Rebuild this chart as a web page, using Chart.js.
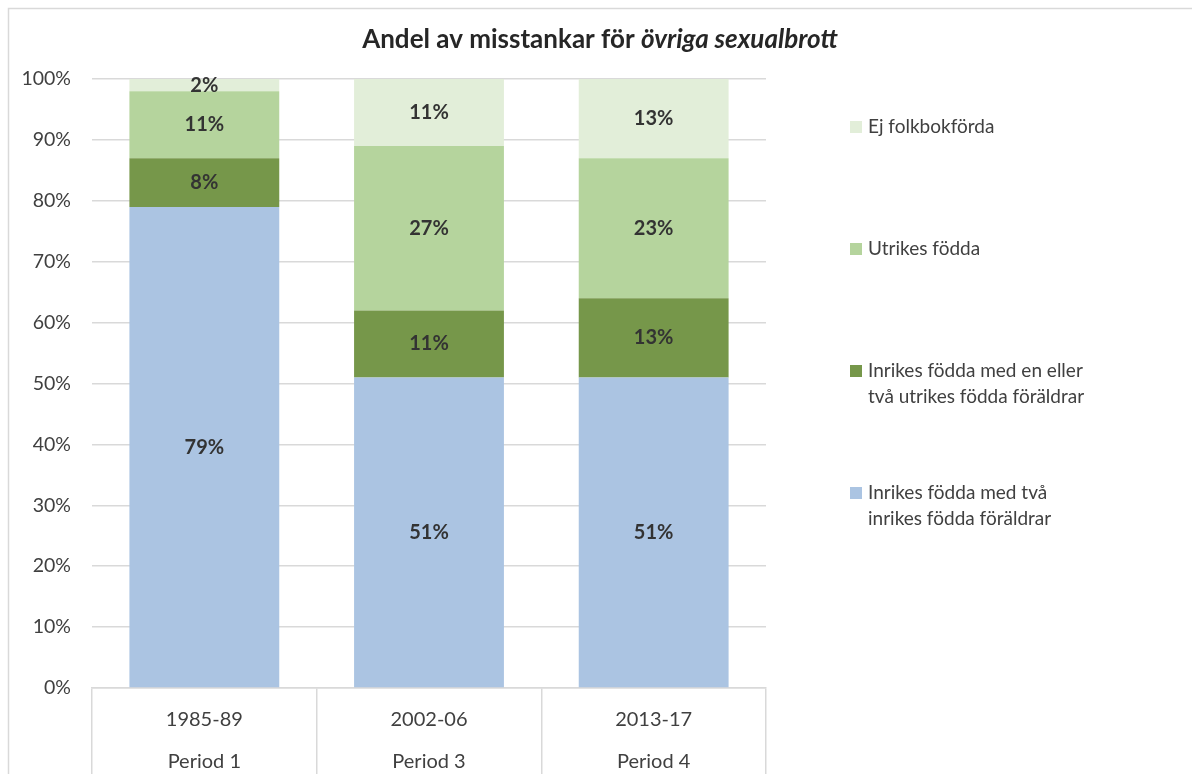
<!DOCTYPE html>
<html lang="sv">
<head>
<meta charset="utf-8">
<title>Andel av misstankar för övriga sexualbrott</title>
<script src="https://cdn.jsdelivr.net/npm/chart.js@4/dist/chart.umd.min.js"></script>
<style>
  html, body { margin: 0; padding: 0; background: #fff; }
  #wrap { position: relative; width: 1192px; height: 774px; }
</style>
</head>
<body>
<div id="wrap"><canvas id="grafico" width="1192" height="774"></canvas></div>
<script>
const perioder = ['1985-89', '2002-06', '2013-17'];
const periodNamn = ['Period 1', 'Period 3', 'Period 4'];

const serieNamn = [
  'Inrikes födda med två inrikes födda föräldrar',
  'Inrikes födda med en eller två utrikes födda föräldrar',
  'Utrikes födda',
  'Ej folkbokförda'
];
const inrikesTvaInrikes = [79, 51, 51];
const inrikesUtrikesForaldrar = [8, 11, 13];
const utrikesFodda = [11, 27, 23];
const ejFolkbokforda = [2, 11, 13];

const yTicks = [0, 10, 20, 30, 40, 50, 60, 70, 80, 90, 100];

const farger = ['#abc4e2', '#76974a', '#b5d49d', '#e2eed9'];
const typsnitt = 'Lato, "Open Sans", sans-serif';
const textFarg = '#404040';
const linjeFarg = '#d9d9d9';

// Ramen runt diagrammet (bara vänster och övre kant syns)
const ramPlugin = {
  id: 'ram',
  beforeDraw: (chart) => {
    const ctx = chart.ctx;
    ctx.save();
    ctx.strokeStyle = linjeFarg;
    ctx.lineWidth = 1.5;
    ctx.beginPath();
    ctx.moveTo(8.5, chart.height);
    ctx.lineTo(8.5, 8.5);
    ctx.lineTo(chart.width, 8.5);
    ctx.stroke();
    ctx.restore();
  }
};

// Titel med kursiv del
const titelPlugin = {
  id: 'titel',
  afterDraw: (chart) => {
    const ctx = chart.ctx;
    const del1 = 'Andel av misstankar för ';
    const del2 = 'övriga sexualbrott';
    const normal = 'bold 26px ' + typsnitt;
    const kursiv = 'italic bold 26px ' + typsnitt;
    ctx.save();
    ctx.fillStyle = '#262626';
    ctx.textBaseline = 'middle';
    ctx.font = normal;
    const b1 = ctx.measureText(del1).width;
    ctx.font = kursiv;
    const b2 = ctx.measureText(del2).width;
    const start = 600 - (b1 + b2) / 2;
    ctx.font = normal;
    ctx.fillText(del1, start, 40);
    ctx.font = kursiv;
    ctx.fillText(del2, start + b1, 40);
    ctx.restore();
  }
};

// Procentetiketter mitt i varje segment
const etikettPlugin = {
  id: 'etiketter',
  afterDatasetsDraw: (chart) => {
    const ctx = chart.ctx;
    ctx.save();
    ctx.font = 'bold 20px ' + typsnitt;
    ctx.fillStyle = '#333333';
    ctx.textAlign = 'center';
    ctx.textBaseline = 'middle';
    chart.data.datasets.forEach((ds, i) => {
      chart.getDatasetMeta(i).data.forEach((bar, j) => {
        ctx.fillText(ds.data[j] + '%', bar.x, (bar.y + bar.base) / 2);
      });
    });
    ctx.restore();
  }
};

// Legend till höger, omvänd ordning, högst två rader per post
const legendPlugin = {
  id: 'egenLegend',
  afterDraw: (chart) => {
    const ctx = chart.ctx;
    const area = chart.chartArea;
    const x = area.right + 84;
    ctx.save();
    ctx.font = '19px ' + typsnitt;
    ctx.textBaseline = 'middle';
    const ordning = chart.data.datasets.map((ds, i) => i).reverse();
    ordning.forEach((i, pos) => {
      const ds = chart.data.datasets[i];
      const y = area.top + 48 + pos * 122;
      const ord = ds.label.split(' ');
      let rad1 = '';
      let k = 0;
      while (k < ord.length) {
        const test = rad1 ? rad1 + ' ' + ord[k] : ord[k];
        if (rad1 && ctx.measureText(test).width > 225) break;
        rad1 = test;
        k++;
      }
      const rader = [rad1];
      if (k < ord.length) rader.push(ord.slice(k).join(' '));
      ctx.fillStyle = ds.backgroundColor;
      ctx.fillRect(x, y - 6, 12, 12);
      ctx.fillStyle = textFarg;
      rader.forEach((r, n) => ctx.fillText(r, x + 18, y + n * 26));
    });
    ctx.restore();
  }
};

const serier = [inrikesTvaInrikes, inrikesUtrikesForaldrar, utrikesFodda, ejFolkbokforda];

const datosGrafico = {
  labels: perioder.map((p, i) => [p, periodNamn[i]]),
  datasets: serier.map((data, i) => ({
    label: serieNamn[i],
    data: data,
    backgroundColor: farger[i],
    borderWidth: 0,
    barPercentage: 1,
    categoryPercentage: 0.667
  }))
};

const config = {
  type: 'bar',
  data: datosGrafico,
  options: {
    responsive: false,
    animation: false,
    layout: { padding: { top: 79, right: 426, bottom: 0, left: 0 } },
    plugins: {
      legend: { display: false },
      title: { display: false },
      tooltip: { enabled: false }
    },
    scales: {
      x: {
        stacked: true,
        afterFit: (scale) => { scale.height = 86; },
        grid: {
          offset: true,
          drawOnChartArea: false,
          drawTicks: true,
          tickLength: 86,
          color: linjeFarg,
          lineWidth: 1.5
        },
        border: { display: true, color: linjeFarg, width: 1.5 },
        ticks: {
          padding: -75,
          color: textFarg,
          font: { family: typsnitt, size: 20, lineHeight: '42px' },
          maxRotation: 0
        }
      },
      y: {
        stacked: true,
        min: 0,
        max: 100,
        afterFit: (scale) => { scale.width = 92; },
        afterBuildTicks: (scale) => { scale.ticks = yTicks.map((v) => ({ value: v })); },
        grid: { color: linjeFarg, lineWidth: 1.5, drawTicks: false },
        border: { display: false },
        ticks: {
          padding: 21,
          color: textFarg,
          font: { family: typsnitt, size: 19.5 },
          callback: (v) => v + '%'
        }
      }
    }
  },
  plugins: [ramPlugin, titelPlugin, etikettPlugin, legendPlugin]
};

new Chart(document.getElementById('grafico').getContext('2d'), config);
</script>
</body>
</html>
